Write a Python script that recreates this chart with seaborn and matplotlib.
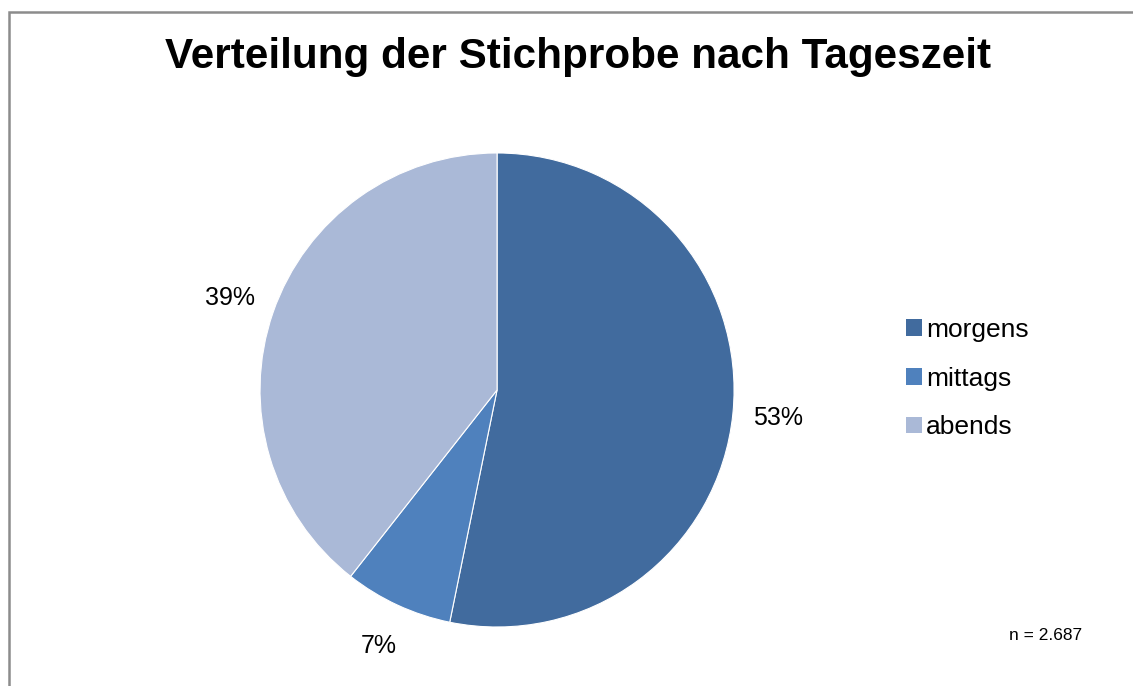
import matplotlib
matplotlib.use("Agg")
import matplotlib.pyplot as plt
import seaborn as sns
from matplotlib.patches import Rectangle, Patch

# data
categories = ["morgens", "mittags", "abends"]
shares = [53.2, 7.4, 39.4]
colors = ["#416B9E", "#4F81BD", "#AAB9D7"]
title = "Verteilung der Stichprobe nach Tageszeit"
note = "n = 2.687"

sns.set_theme(style="white")
plt.rcParams["font.family"] = ["Liberation Sans", "DejaVu Sans"]
plt.rcParams["text.color"] = "black"

fig = plt.figure(figsize=(11.33, 6.86), dpi=100)
ax = fig.add_axes([0.2295, 0.086, 0.4184, 0.691])

wedges, texts, autotexts = ax.pie(
    shares, colors=colors, startangle=90, counterclock=False,
    autopct="%1.0f%%", pctdistance=1.19,
    wedgeprops=dict(edgecolor="white", linewidth=0.8),
    textprops=dict(fontsize=18, color="black"))
ax.set_xlim(-1, 1)
ax.set_ylim(-1, 1)
ax.set_aspect("equal")

fig.text(0.510, 0.917, title, ha="center", va="center",
         fontsize=30.4, fontweight="bold", color="black")

handles = [Patch(facecolor=c, edgecolor="none") for c in colors]
leg = fig.legend(handles, categories, loc="center left",
                 bbox_to_anchor=(0.779, 0.448), frameon=False,
                 fontsize=19, handlelength=0.6, handleheight=0.6,
                 handletextpad=0.15, labelspacing=0.93)
for t in leg.get_texts():
    t.set_color("black")

fig.text(0.923, 0.073, note, ha="center", va="center", fontsize=12.5)

# outer chart frame
fig.patches.append(Rectangle((0.0079, -0.02), 1.05, 0.9825 + 0.02,
                             transform=fig.transFigure, fill=False,
                             edgecolor="#8c8c8c", linewidth=1.8))

fig.savefig("out.png", dpi=100)
